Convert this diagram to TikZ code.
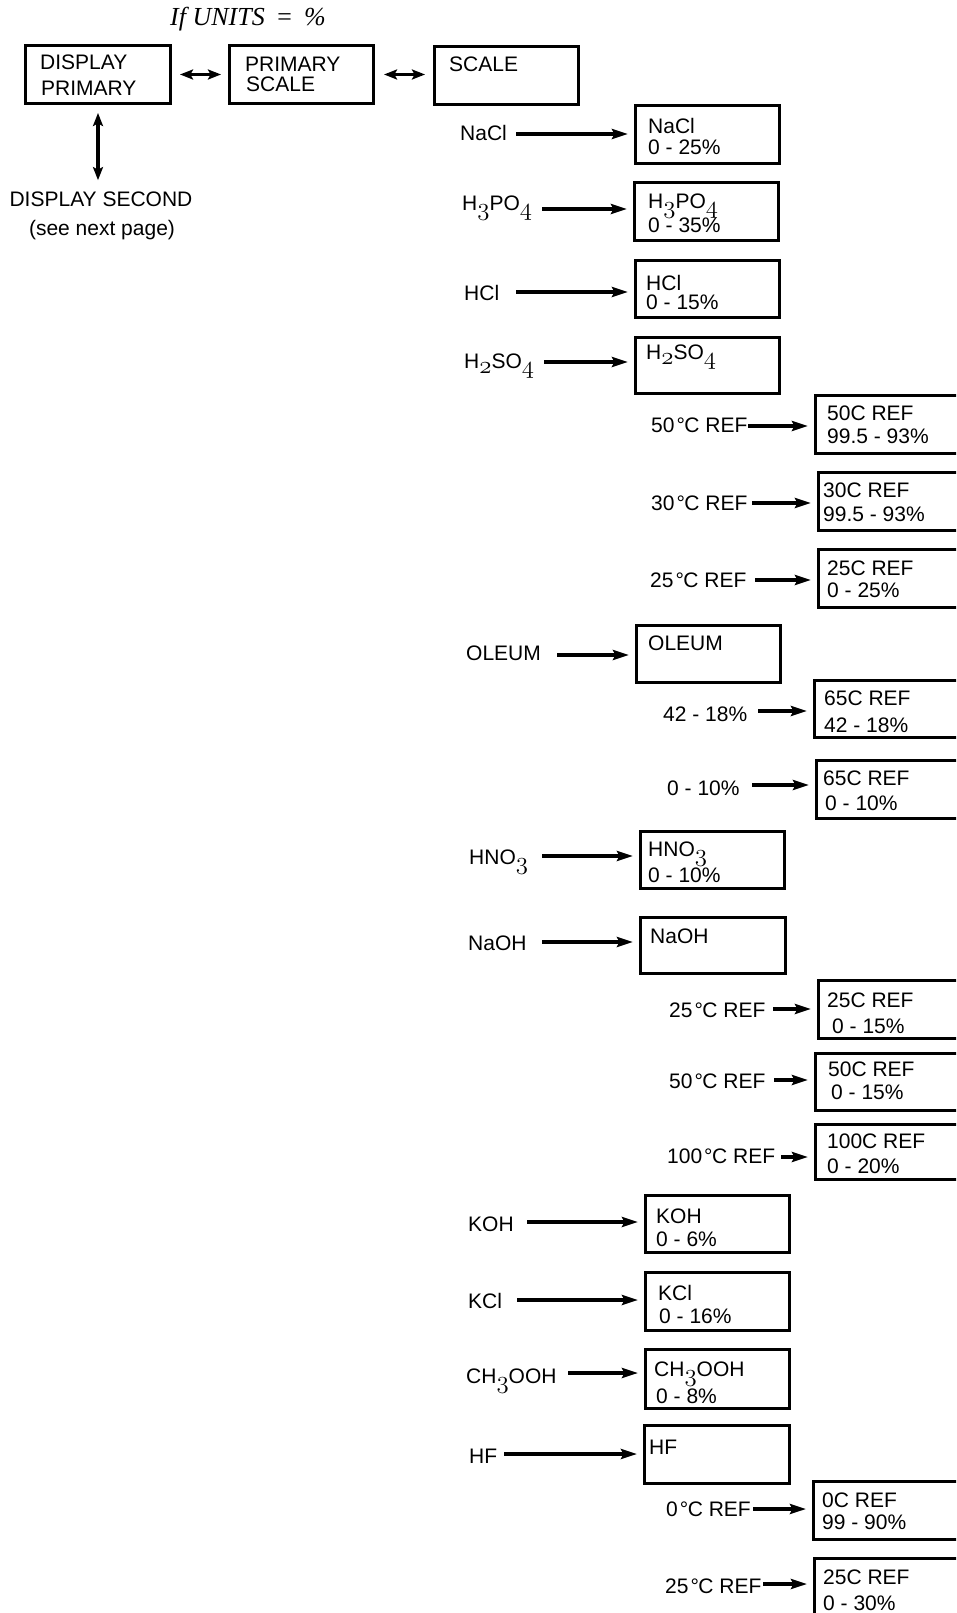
\documentclass[tikz,border=0pt]{standalone}
\usepackage{fontspec}
\setmainfont{Liberation Sans}
\newfontfamily\titlefont{Liberation Serif}
\usetikzlibrary{arrows.meta}
\newcommand{\chsub}[1]{\raisebox{-5pt}{\fontsize{24}{24}\selectfont$\mathnormal{#1}$}}
\newcommand{\degc}{\kern2pt°\kern-0.5pt C}
\tikzset{
 txt/.style={font=\fontsize{21}{23}\selectfont, inner sep=0pt, anchor=base west},
 boxst/.style={draw, line width=3pt, inner sep=0pt, anchor=north west},
 arr/.style={line width=3.4pt, -{Stealth[length=16pt,width=10pt,inset=2.5pt]}, shorten >=6pt},
 darr/.style={line width=3.4pt, {Stealth[length=13pt,width=10pt,inset=2.5pt]}-{Stealth[length=13pt,width=10pt,inset=2.5pt]}},
}
\newcommand{\bx}[5]{\node[boxst, minimum width=#4pt, minimum height=#5pt] (#1) at (#2,#3) {};}
\newcommand{\lnk}[4]{\coordinate (#1) at (#2,#3); \draw[arr] (#1) -- (#1 -| #4.west);}
\begin{document}
\begin{tikzpicture}[x=1pt,y=-1pt]
\useasboundingbox (0,0) rectangle (956,1613);
\clip (0,0) rectangle (956,1613);
% top row
\node[txt, font=\titlefont\itshape\fontsize{26}{26}\selectfont] (title) at (170,26) {If UNITS\, =\, \%};
\bx{dp}{24}{44}{145}{58}
\node[txt] (dpa) at (40,70) {DISPLAY};
\node[txt] (dpb) at (41,96) {PRIMARY};
\bx{ps}{228}{44}{144}{58}
\node[txt] (psa) at (245,72) {PRIMARY};
\node[txt] (psb) at (246,92) {SCALE};
\bx{sc}{433}{45}{144}{58}
\node[txt] (sca) at (449,72) {SCALE};
\draw[darr, shorten <=8pt, shorten >=7pt] (dp.east) -- (dp.east -| ps.west);
\draw[darr, shorten <=9pt, shorten >=8pt] (ps.east) -- (ps.east -| sc.west);
\node[txt, anchor=base] (ds) at (101,207) {DISPLAY SECOND};
\node[txt, anchor=base] (dsn) at (102,236) {(see next page)};
\draw[darr, shorten <=8pt, shorten >=12pt] (dp.south) -- (dp.south |- ds.north);
% NaCl
\node[txt] (l1) at (460,141) {NaCl};
\bx{b1}{634}{104}{144}{58}
\node[txt] (t1a) at (648,134) {NaCl};
\node[txt] (t1b) at (648,155) {0 - 25\%};
\lnk{s1}{516}{134}{b1}
% H3PO4
\node[txt] (l2) at (462,211) {H\chsub{3}PO\chsub{4}};
\bx{b2}{633}{181}{144}{58}
\node[txt] (t2a) at (648,209) {H\chsub{3}PO\chsub{4}};
\node[txt] (t2b) at (648,233) {0 - 35\%};
\lnk{s2}{542}{209}{b2}
% HCl
\node[txt] (l3) at (464,300) {HCl};
\bx{b3}{634}{259}{144}{57}
\node[txt] (t3a) at (646,290) {HCl};
\node[txt] (t3b) at (646,309) {0 - 15\%};
\lnk{s3}{516}{292}{b3}
% H2SO4
\node[txt] (l4) at (464,368) {H\chsub{2}SO\chsub{4}};
\bx{b4}{634}{336}{144}{56}
\node[txt] (t4a) at (646,359) {H\chsub{2}SO\chsub{4}};
\lnk{s4}{544}{362}{b4}
\node[txt] (l4a) at (651,432) {50\degc{} REF};
\bx{b4a}{814}{394}{160}{58}
\node[txt] (t4aa) at (827,420) {50C REF};
\node[txt] (t4ab) at (827,443) {99.5 - 93\%};
\lnk{s4a}{748}{426}{b4a}
\node[txt] (l4b) at (651,510) {30\degc{} REF};
\bx{b4b}{817}{471}{160}{58}
\node[txt] (t4ba) at (823,497) {30C REF};
\node[txt] (t4bb) at (823,521) {99.5 - 93\%};
\lnk{s4b}{752}{503}{b4b}
\node[txt] (l4c) at (650,587) {25\degc{} REF};
\bx{b4c}{817}{548}{160}{58}
\node[txt] (t4ca) at (827,575) {25C REF};
\node[txt] (t4cb) at (827,597) {0 - 25\%};
\lnk{s4c}{755}{580}{b4c}
% OLEUM
\node[txt] (l5) at (466,660) {OLEUM};
\bx{b5}{635}{624}{144}{57}
\node[txt] (t5a) at (648,650) {OLEUM};
\lnk{s5}{557}{655}{b5}
\node[txt] (l5a) at (663,721) {42 - 18\%};
\bx{b5a}{813}{679}{160}{57}
\node[txt] (t5aa) at (824,705) {65C REF};
\node[txt] (t5ab) at (824,732) {42 - 18\%};
\lnk{s5a}{758}{711}{b5a}
\node[txt] (l5b) at (667,795) {0 - 10\%};
\bx{b5b}{815}{759}{160}{58}
\node[txt] (t5ba) at (823,785) {65C REF};
\node[txt] (t5bb) at (825,810) {0 - 10\%};
\lnk{s5b}{752}{785}{b5b}
% HNO3
\node[txt] (l6) at (469,864) {HNO\chsub{3}};
\bx{b6}{639}{830}{144}{57}
\node[txt] (t6a) at (648,856) {HNO\chsub{3}};
\node[txt] (t6b) at (648,882) {0 - 10\%};
\lnk{s6}{542}{856}{b6}
% NaOH
\node[txt] (l7) at (468,950) {NaOH};
\bx{b7}{639}{916}{145}{56}
\node[txt] (t7a) at (650,943) {NaOH};
\lnk{s7}{542}{942}{b7}
\node[txt] (l7a) at (669,1017) {25\degc{} REF};
\bx{b7a}{817}{979}{160}{58}
\node[txt] (t7aa) at (827,1007) {25C REF};
\node[txt] (t7ab) at (832,1033) {0 - 15\%};
\lnk{s7a}{773}{1009}{b7a}
\node[txt] (l7b) at (669,1088) {50\degc{} REF};
\bx{b7b}{814}{1052}{160}{57}
\node[txt] (t7ba) at (828,1076) {50C REF};
\node[txt] (t7bb) at (831,1099) {0 - 15\%};
\lnk{s7b}{774}{1080}{b7b}
\node[txt] (l7c) at (667,1163) {100\degc{} REF};
\bx{b7c}{814}{1123}{160}{55}
\node[txt] (t7ca) at (827,1148) {100C REF};
\node[txt] (t7cb) at (827,1173) {0 - 20\%};
\lnk{s7c}{781}{1157}{b7c}
% KOH
\node[txt] (l8) at (468,1231) {KOH};
\bx{b8}{644}{1194}{144}{57}
\node[txt] (t8a) at (656,1223) {KOH};
\node[txt] (t8b) at (656,1246) {0 - 6\%};
\lnk{s8}{527}{1222}{b8}
% KCl
\node[txt] (l9) at (468,1308) {KCl};
\bx{b9}{644}{1271}{144}{58}
\node[txt] (t9a) at (658,1300) {KCl};
\node[txt] (t9b) at (659,1323) {0 - 16\%};
\lnk{s9}{517}{1300}{b9}
% CH3OOH
\node[txt] (l10) at (466,1383) {CH\chsub{3}OOH};
\bx{b10}{644}{1348}{144}{59}
\node[txt] (t10a) at (654,1376) {CH\chsub{3}OOH};
\node[txt] (t10b) at (656,1403) {0 - 8\%};
\lnk{s10}{568}{1373}{b10}
% HF
\node[txt] (l11) at (469,1463) {HF};
\bx{b11}{643}{1424}{145}{58}
\node[txt] (t11a) at (649,1454) {HF};
\lnk{s11}{504}{1454}{b11}
\node[txt] (l11a) at (666,1516) {0\degc{} REF};
\bx{b11a}{812}{1480}{160}{58}
\node[txt] (t11aa) at (822,1507) {0C REF};
\node[txt] (t11ab) at (822,1529) {99 - 90\%};
\lnk{s11a}{753}{1509}{b11a}
\node[txt] (l11b) at (665,1593) {25\degc{} REF};
\bx{b11b}{813}{1557}{160}{90}
\node[txt] (t11ba) at (823,1584) {25C REF};
\node[txt] (t11bb) at (823,1610) {0 - 30\%};
\lnk{s11b}{763}{1584}{b11b}
\end{tikzpicture}
\end{document}
